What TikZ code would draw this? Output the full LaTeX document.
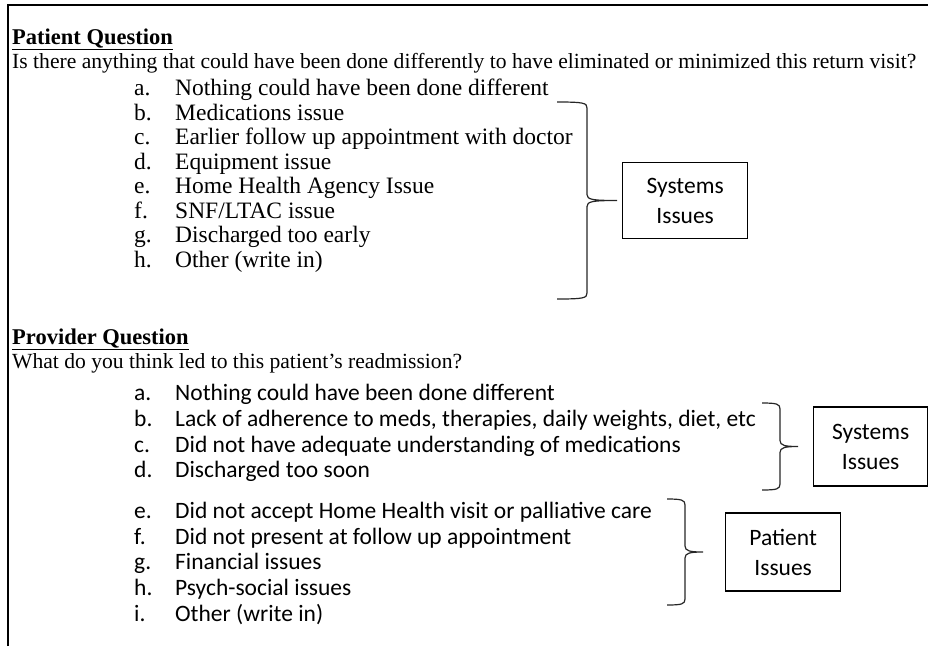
\documentclass[tikz,border=0pt]{standalone}
\usepackage{fontspec}
\setmainfont{Liberation Serif}
\newfontfamily\calibrifont{Carlito}
\usetikzlibrary{positioning,calc}
\newcommand{\itemlabel}[1]{\makebox[41pt][l]{#1}}
\newcommand{\curlybrace}[3]{%
  \draw[bracelink] (#1) .. controls +(#3-3,0) and +(0,-5) .. ($(#1)+(#3,6)$)
    -- ($(#1)!.5!(#2)+(#3,-6)$) .. controls +(0,5) and +(5-#3,0) .. ($(#1)!.5!(#2)+(2*#3,0)$)
    .. controls +(5-#3,0) and +(0,-5) .. ($(#1)!.5!(#2)+(#3,6)$)
    -- ($(#2)+(#3,-6)$) .. controls +(0,5) and +(#3-3,0) .. (#2);}

\begin{document}
\begin{tikzpicture}[x=1pt,y=-1pt]
		\tikzstyle{headtext} = [anchor=base west, inner sep=0pt, font=\fontsize{22.5}{26}\selectfont\bfseries];
		\tikzstyle{asktext} = [anchor=base west, inner sep=0pt, font=\fontsize{21.6}{24}\selectfont];
		\tikzstyle{ptitem} = [anchor=north west, inner sep=0pt, text height=17.5pt, text depth=6.6pt, font=\fontsize{23.5}{24}\selectfont];
		\tikzstyle{pvitem} = [anchor=north west, inner sep=0pt, text height=18.5pt, text depth=6.8pt, font=\calibrifont\fontsize{23.5}{25}\selectfont];
		\tikzstyle{issuebox} = [rectangle, draw=black, line width=1.3pt, inner sep=0pt, align=center, anchor=west, font=\calibrifont\fontsize{23.5}{30}\selectfont];
		\tikzstyle{bracelink} = [line width=1.2pt, black!85];
		\clip (0,0) rectangle (928,646);
		\draw[line width=2pt] (8,646) -- (8,5) -- (928,5);
		% patient part
		\node (pthead) [headtext] at (12,44) {\underline{Patient Question}};
		\node (ptask) [asktext] at (12,68) {Is there anything that could have been done differently to have eliminated or minimized this return visit?};
		\node (pta) [ptitem] at (134,78) {\itemlabel{a.}Nothing could have been done different};
		\node (ptb) [ptitem, below=0pt of pta.south west, anchor=north west] {\itemlabel{b.}Medications issue};
		\node (ptc) [ptitem, below=0pt of ptb.south west, anchor=north west] {\itemlabel{c.}Earlier follow up appointment with doctor};
		\node (ptd) [ptitem, below=0pt of ptc.south west, anchor=north west] {\itemlabel{d.}Equipment issue};
		\node (pte) [ptitem, below=0pt of ptd.south west, anchor=north west] {\itemlabel{e.}Home Health Agency Issue};
		\node (ptf) [ptitem, below=0pt of pte.south west, anchor=north west] {\itemlabel{f.}SNF/LTAC issue};
		\node (ptg) [ptitem, below=0pt of ptf.south west, anchor=north west] {\itemlabel{g.}Discharged too early};
		\node (pth) [ptitem, below=0pt of ptg.south west, anchor=north west] {\itemlabel{h.}Other (write in)};
		\coordinate (ptbtop) at (557,102);
		\coordinate (ptbbot) at (557,299);
		\coordinate (ptbtip) at ($(ptbtop)!.5!(ptbbot)+(60,0)$);
		\curlybrace{ptbtop}{ptbbot}{30}
		\node (ptsys) [issuebox, minimum width=125pt, minimum height=76pt, right=5pt of ptbtip] {Systems\\Issues};
		% provider part
		\node (pvhead) [headtext] at (12,344) {\underline{Provider Question}};
		\node (pvask) [asktext] at (12,368) {What do you think led to this patient’s readmission?};
		\node (pva) [pvitem] at (134,382) {\itemlabel{a.}Nothing could have been done different};
		\node (pvb) [pvitem, below=0pt of pva.south west, anchor=north west] {\itemlabel{b.}Lack of adherence to meds, therapies, daily weights, diet, etc};
		\node (pvc) [pvitem, below=0pt of pvb.south west, anchor=north west] {\itemlabel{c.}Did not have adequate understanding of medications};
		\node (pvd) [pvitem, below=0pt of pvc.south west, anchor=north west] {\itemlabel{d.}Discharged too soon};
		\node (pve) [pvitem, below=15pt of pvd.south west, anchor=north west] {\itemlabel{e.}Did not accept Home Health visit or palliative care};
		\node (pvf) [pvitem, below=0pt of pve.south west, anchor=north west] {\itemlabel{f.}Did not present at follow up appointment};
		\node (pvg) [pvitem, below=0pt of pvf.south west, anchor=north west] {\itemlabel{g.}Financial issues};
		\node (pvh) [pvitem, below=0pt of pvg.south west, anchor=north west] {\itemlabel{h.}Psych-social issues};
		\node (pvi) [pvitem, below=0pt of pvh.south west, anchor=north west] {\itemlabel{i.}Other (write in)};
		\coordinate (pvbtop) at (762,403);
		\coordinate (pvbbot) at (762,490);
		\coordinate (pvbtip) at ($(pvbtop)!.5!(pvbbot)+(36,0)$);
		\curlybrace{pvbtop}{pvbbot}{18}
		\node (pvsys) [issuebox, minimum width=114pt, minimum height=79pt, right=15pt of pvbtip] {Systems\\Issues};
		\coordinate (pvptop) at (667,499);
		\coordinate (pvpbot) at (667,605);
		\coordinate (pvptip) at ($(pvptop)!.5!(pvpbot)+(36,0)$);
		\curlybrace{pvptop}{pvpbot}{18}
		\node (pvpat) [issuebox, minimum width=115pt, minimum height=78pt, right=22pt of pvptip] {Patient\\Issues};
	\end{tikzpicture}
\end{document}
